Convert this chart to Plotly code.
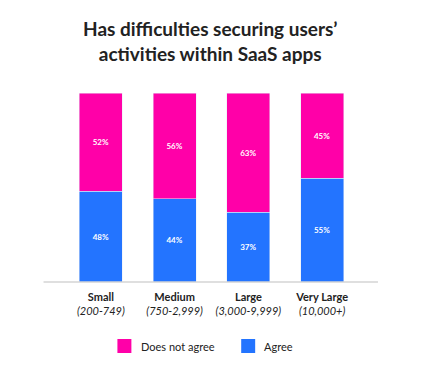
import plotly.graph_objects as go

categories = ["Small", "Medium", "Large", "Very Large"]
ranges = ["(200-749)", "(750-2,999)", "(3,000-9,999)", "(10,000+)"]
agree = [48, 44, 37, 55]
not_agree = [52, 56, 63, 45]

PINK = "#FF00A8"
BLUE = "#2374FF"
FONT = "Lato, 'Open Sans', sans-serif"

ticktext = [f"<b>{c}</b><br><i>{r}</i>" for c, r in zip(categories, ranges)]

fig = go.Figure()
fig.add_trace(go.Bar(
    x=categories, y=agree, name="Agree", marker_color=BLUE,
    text=[f"{v}%" for v in agree], textposition="inside", insidetextanchor="middle",
    textfont=dict(color="white", size=8, family=FONT), textangle=0,
    texttemplate="<b>%{text}</b>", showlegend=False,
))
fig.add_trace(go.Bar(
    x=categories, y=not_agree, name="Does not agree", marker_color=PINK,
    text=[f"{v}%" for v in not_agree], textposition="inside", insidetextanchor="middle",
    textfont=dict(color="white", size=8, family=FONT), textangle=0,
    texttemplate="<b>%{text}</b>", showlegend=False,
))

# page places the figure 8px from top-left, so layout coords = reference - 8
OFF = 8
W, H = 424, 365
L = 63.5 - OFF
R = W - (359 - OFF)
T = 93 - OFF
B = H - (282 - OFF)
pw = W - L - R
ph = H - T - B

def px(x):
    return (x - OFF - L) / pw

def py(y):
    return (H - B - (y - OFF)) / ph

fig.update_layout(
    width=W, height=H,
    margin=dict(l=L, r=R, t=T, b=B, pad=0),
    barmode="stack", bargap=0.42,
    plot_bgcolor="white", paper_bgcolor="white",
    font=dict(family=FONT, color="#222"),
    title=dict(
        text="<b>Has difficulties securing users’<br>activities within SaaS apps</b>",
        x=px(210), xref="paper", xanchor="center",
        y=1 - (36 - OFF) / H, yref="container", yanchor="middle",
        font=dict(size=19, color="#222", family=FONT),
    ),
    xaxis=dict(
        tickmode="array", tickvals=categories, ticktext=ticktext,
        tickfont=dict(size=11, color="#222", family=FONT),
        ticklabelstandoff=7,
        showline=False, showgrid=False, ticks="", fixedrange=True,
    ),
    yaxis=dict(range=[0, 100], visible=False, fixedrange=True),
    showlegend=False,
)

# axis baseline
fig.add_shape(type="line", xref="paper", yref="paper",
              x0=px(43), x1=px(378), y0=0, y1=0,
              line=dict(color="#d4d4d4", width=1.5))

# legend (manual)
legend_items = [("Does not agree", PINK, 117, 139), ("Agree", BLUE, 241, 262)]
for label, col, sx, tx in legend_items:
    fig.add_shape(type="rect", xref="paper", yref="paper",
                  x0=px(sx), x1=px(sx + 14), y0=py(339), y1=py(353),
                  fillcolor=col, line=dict(width=0))
    fig.add_annotation(text=label, xref="paper", yref="paper",
                       x=px(tx), y=py(346), xanchor="left", yanchor="middle",
                       showarrow=False, font=dict(size=11, color="#222", family=FONT))

fig.write_html("out.html")
